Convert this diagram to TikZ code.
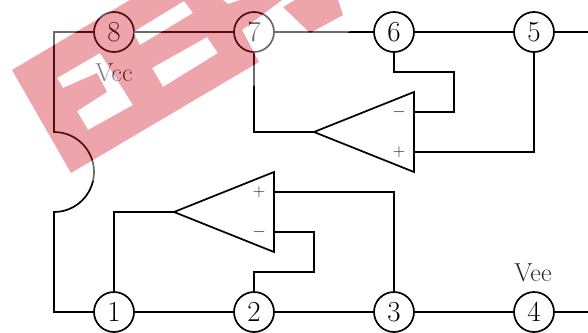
\documentclass[tikz,border=0pt]{standalone}
\definecolor{wmred}{rgb}{0.825,0.12,0.18}
\newcommand{\wmmain}{(12,70) -- (130,0) -- (282,0) -- (242,30) -- (259,62) -- (71,173) -- cycle}
\newcommand{\wmblock}{(283,7) -- (295,0) -- (338,0) -- (343,15) -- (310,33) -- cycle}
\newcommand{\wmholes}{(57,78) -- (100,53) -- (133,105) -- (88,130) -- (77,111) -- (107,92) -- (97,73) -- (63,88) -- cycle
 (133,32) -- (184,1) -- (193,13) -- (140,45) -- cycle
 (152,68) -- (207,37) -- (218,53) -- (163,87) -- cycle
 (223,0) -- (240,0) -- (228,4) -- cycle}
\tikzset{
  wire/.style={line width=1.7pt, line join=miter},
  pin/.style={circle, draw, line width=1.7pt, minimum size=40pt, inner sep=0pt, outer sep=0pt, font=\fontsize{29}{29}\selectfont},
  lbl/.style={inner sep=0pt, font=\fontsize{26}{26}\selectfont, text=black!85},
  sign/.style={inner sep=0pt, font=\fontsize{18}{18}\selectfont, text=black!85},
  amp/.style={line width=1.7pt, line join=miter},
}
\begin{document}
\begin{tikzpicture}[x=1pt,y=-1pt]
\useasboundingbox (0,0) rectangle (588,332);
% pins
\node[pin] (p8) at (114,32) {8};
\node[pin] (p7) at (254,32) {7};
\node[pin] (p6) at (394,32) {6};
\node[pin] (p5) at (534,32) {5};
\node[pin] (p1) at (114,312) {1};
\node[pin] (p2) at (254,312) {2};
\node[pin] (p3) at (394,312) {3};
\node[pin] (p4) at (534,312) {4};
% labels
\node[lbl] (vcc) at (114,73) {Vcc};
\node[lbl] (vee) at (533,273) {Vee};
% amplifiers
\coordinate (ua) at (314,132);
\coordinate (ub) at (414,92);
\coordinate (uc) at (414,172);
\coordinate (um) at (414,112);
\coordinate (up) at (414,152);
\draw[amp] (ua) -- (ub) -- (uc) -- cycle;
\node[sign] (uminus) at (399,112) {$-$};
\node[sign] (uplus) at (399,152) {$+$};
\coordinate (la) at (174,212);
\coordinate (lb) at (274,172);
\coordinate (lc) at (274,252);
\coordinate (lp) at (274,192);
\coordinate (lm) at (274,232);
\draw[amp] (la) -- (lb) -- (lc) -- cycle;
\node[sign] (lplus) at (259,192) {$+$};
\node[sign] (lminus) at (259,232) {$-$};
% connectors
\coordinate (tl) at (54,32);
\coordinate (tr) at (588,32);
\coordinate (bl) at (54,312);
\coordinate (br) at (588,312);
\coordinate (arcs) at (54,132);
\draw[wire] (p8) -- (tl) -- (arcs) arc[start angle=-90,end angle=90,radius=40] -- (bl) -- (p1);
\draw[wire] (p8) -- (p7);
\draw[wire] (p7) -- (p6);
\draw[wire] (p6) -- (p5);
\draw[wire] (p5) -- (tr);
\draw[wire] (p1) -- (p2);
\draw[wire] (p2) -- (p3);
\draw[wire] (p3) -- (p4);
\draw[wire] (p4) -- (br);
\draw[wire] (p7) |- (ua);
\draw[wire] (p6) -- (394,72) -- (454,72) -- (454,112) -- (um);
\draw[wire] (p5) |- (up);
\draw[wire] (p1) |- (la);
\draw[wire] (p3) |- (lp);
\draw[wire] (p2) -- (254,272) -- (314,272) -- (314,232) -- (lm);
% watermark: veil and band
\fill[white, opacity=0.42, even odd rule]
  (-12.6,63.6) -- (129,-20) -- (343,-20) -- (367.6,21.4) -- (319,48.5) -- (268,77.5) -- (64.6,197.6) -- cycle
  \wmmain \wmblock \wmholes;
\fill[wmred, opacity=0.4, even odd rule] \wmmain \wmholes;
\fill[wmred, opacity=0.4] \wmblock;
\end{tikzpicture}
\end{document}
